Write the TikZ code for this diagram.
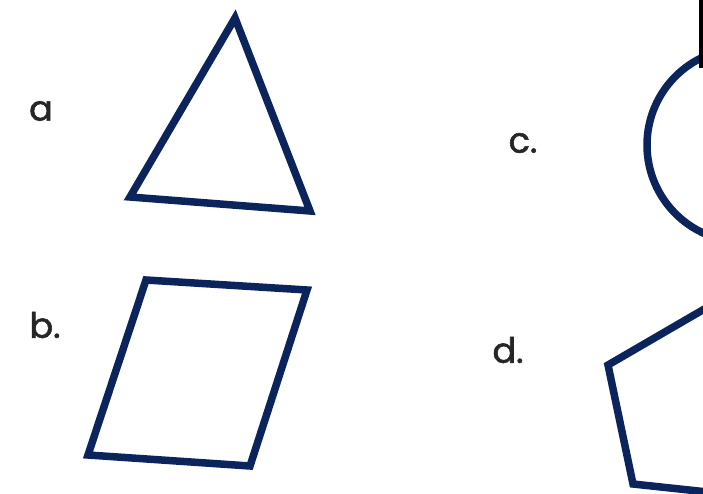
\documentclass[tikz,border=0pt]{standalone}
\usepackage{fontspec}
\setmainfont{Poppins}
\newfontfamily\labelfont{Poppins}[FakeBold=1.6]
\usepackage{tikz}
\usetikzlibrary{positioning}

\definecolor{shapeblue}{RGB}{12,36,92}

\begin{document}
\begin{tikzpicture}[
  x=1pt, y=-1pt,
  outline/.style={draw=shapeblue, line width=7.5pt, line join=miter},
  letter/.style={font=\labelfont\fontsize{35}{35}\selectfont, text=black!85, inner sep=0pt}
]
\useasboundingbox (0,0) rectangle (703,494);
\clip (0,0) rectangle (703,494);
% labels
\node[letter] (la) at (41,111) {a};
\node[letter] (lb) at (45,325) {b.};
\node[letter] (lc) at (523,143) {c.};
\node[letter] (ld) at (508,350) {d.};
% shapes
\draw[outline] (235,18) -- (310,211) -- (130,197) -- cycle;
\draw[outline] (146,280) -- (307,290) -- (250,466) -- (88,455) -- cycle;
\draw[outline] (744,145) circle[radius=97];
\draw[outline] (633,484) -- (608,365) -- (713,304) -- (804,386) -- (754,497) -- cycle;
% edge of the frame
\fill[black] (699,0) rectangle (703,68);
\end{tikzpicture}
\end{document}
